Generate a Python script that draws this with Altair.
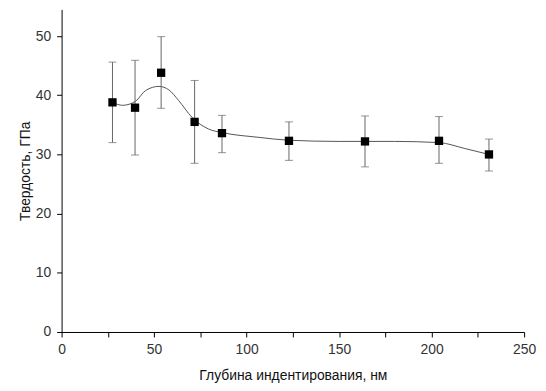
import altair as alt
import pandas as pd

# Measured points
depth = [27.5, 39.7, 53.8, 71.9, 86.7, 122.9, 164.0, 204.0, 231.0]
hardness = [38.8, 37.9, 43.8, 35.5, 33.6, 32.3, 32.2, 32.3, 30.0]
err_low = [32.0, 29.9, 37.8, 28.5, 30.3, 29.0, 27.9, 28.5, 27.2]
err_high = [45.6, 45.9, 49.9, 42.5, 36.6, 35.5, 36.5, 36.4, 32.6]

# Smooth fit curve
curve_x = [27.5, 33.0, 40.0, 45.4, 52.6, 58.0, 63.3, 70.4, 79.4, 86.7, 106.2, 123.0, 150.0, 180.0, 204.0, 218.0, 231.0]
curve_y = [38.8, 38.3, 39.0, 40.8, 41.5, 40.9, 39.1, 36.3, 34.3, 33.7, 32.9, 32.4, 32.2, 32.2, 32.0, 31.0, 30.0]

pts = pd.DataFrame({"x": depth, "y": hardness, "lo": err_low, "hi": err_high})
fit = pd.DataFrame({"x": curve_x, "y": curve_y})

xscale = alt.Scale(domain=[0, 250], nice=False, zero=False)
yscale = alt.Scale(domain=[0, 54.5], nice=False)

xaxis = alt.Axis(
    title="Глубина индентирования, нм",
    values=list(range(0, 251, 25)),
    labelExpr="datum.value % 50 == 0 ? datum.label : ''",
    grid=False, tickSize=5, labelPadding=6, titlePadding=12,
    labelFlush=False, labelOverlap=False,
    labelFontSize=14, titleFontSize=14, labelColor="#333", titleColor="#111",
    titleFontWeight="normal", domainColor="#000", tickColor="#000",
    labelFont="Liberation Sans", titleFont="Liberation Sans",
)
yaxis = alt.Axis(
    title="Твердость, ГПа",
    values=list(range(0, 55, 5)),
    labelExpr="datum.value % 10 == 0 ? datum.label : ''",
    grid=False, tickSize=5, labelPadding=6, titlePadding=3,
    labelFlush=False, labelOverlap=False,
    labelFontSize=14, titleFontSize=14, labelColor="#333", titleColor="#111",
    titleFontWeight="normal", domainColor="#000", tickColor="#000",
    labelFont="Liberation Sans", titleFont="Liberation Sans",
)

line = alt.Chart(fit).mark_line(color="#555", strokeWidth=1, interpolate="monotone").encode(
    x=alt.X("x:Q", scale=xscale, axis=xaxis),
    y=alt.Y("y:Q", scale=yscale, axis=yaxis),
)

bars = alt.Chart(pts).mark_rule(color="#666", strokeWidth=1).encode(
    x="x:Q", y="lo:Q", y2="hi:Q"
)
cap_lo = alt.Chart(pts).mark_tick(color="#666", thickness=1, size=8, orient="horizontal").encode(
    x="x:Q", y="lo:Q"
)
cap_hi = alt.Chart(pts).mark_tick(color="#666", thickness=1, size=8, orient="horizontal").encode(
    x="x:Q", y="hi:Q"
)
points = alt.Chart(pts).mark_square(color="#000", opacity=1, size=70, filled=True).encode(
    x="x:Q", y="y:Q"
)

chart = alt.layer(line, bars, cap_lo, cap_hi, points).properties(
    width=466, height=325,
    background="white",
    autosize=alt.AutoSizeParams(type="none"),
    padding={"left": 54, "top": 0, "right": 14, "bottom": 58},
).configure_view(stroke=None)

chart.save("out.html", embed_options={"renderer": "svg", "actions": False})
